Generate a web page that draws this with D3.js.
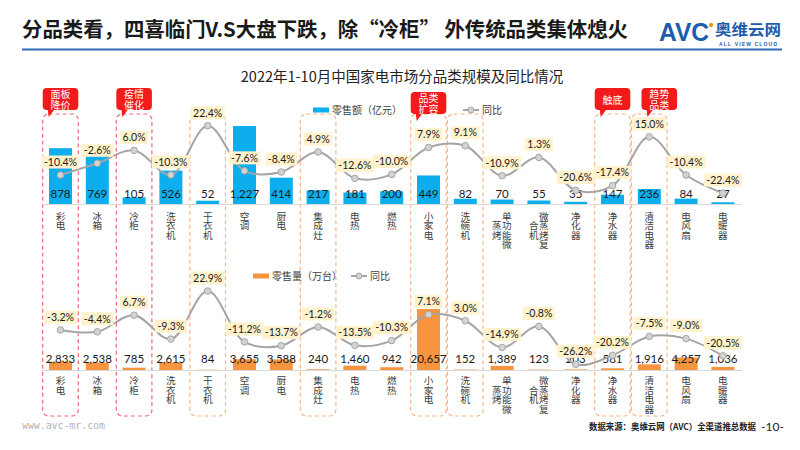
<!DOCTYPE html>
<html><head><meta charset="utf-8">
<script src="https://cdn.jsdelivr.net/npm/d3@7/dist/d3.min.js"></script>
<style>
html,body{margin:0;padding:0;background:#fff;}
svg{display:block;}
.vt{writing-mode:vertical-rl;}
.co{font-family:'Noto Sans CJK SC',sans-serif;font-size:10px;line-height:11px;color:#fff;text-align:center;word-break:break-all;margin:0 auto;}
</style></head>
<body>
<svg id="c" width="800" height="450"></svg>
<script>
// ---------- DATA ----------
const categories = ["彩电","冰箱","冷柜","洗衣机","干衣机","空调","厨电","集成灶","电热","燃热","小家电","洗碗机","单功能微蒸烤","微蒸烤复合机","净化器","净水器","清洁电器","电风扇","电暖器"];
const retailValue = [878,769,105,526,52,1227,414,217,181,200,449,82,70,55,35,147,236,84,27];           // 零售额（亿元）
const retailValueYoY = [-10.4,-2.6,6.0,-10.3,22.4,-7.6,-8.4,4.9,-12.6,-10.0,7.9,9.1,-10.9,1.3,-20.6,-17.4,15.0,-10.4,-22.4];
const retailVolume = [2833,2538,785,2615,84,3655,3588,240,1460,942,20657,152,1389,123,203,581,1916,4257,1036]; // 零售量（万台）
const retailVolumeYoY = [-3.2,-4.4,6.7,-9.3,22.9,-11.2,-13.7,-1.2,-13.5,-10.3,7.1,3.0,-14.9,-0.8,-26.2,-20.2,-7.5,-9.0,-20.5];
const redBoxes = ["彩电","冷柜"];
const orangeBoxes = ["干衣机","集成灶","小家电","洗碗机","净水器","清洁电器"];
const callouts = [
  {cat:"彩电", text:"面板降价"},
  {cat:"冷柜", text:"疫情催化"},
  {cat:"小家电", text:"品类扩容"},
  {cat:"净水器", text:"触底"},
  {cat:"清洁电器", text:"趋势品类"}
];
const titleText = "分品类看，四喜临门V.S大盘下跌，除“冷柜” 外传统品类集体熄火";
const chartTitle = "2022年1-10月中国家电市场分品类规模及同比情况";

// ---------- LAYOUT ----------
const svg = d3.select("#c");
const NUM_FONT = "Lato, 'Noto Sans CJK SC', sans-serif";
const CJK_FONT = "'Noto Sans CJK SC', sans-serif";
const calloutShift = {"小家电":{dy:4},"清洁电器":{dx:10}};

const x = d3.scaleBand().domain(categories).range([42.1, 741.3]).paddingInner(0.375).paddingOuter(0.1875);
const cx = c => x(c) + x.bandwidth()/2;

// header
svg.append("text").attr("x",22).attr("y",37).attr("font-family",CJK_FONT).attr("font-weight","bold")
  .attr("font-size",20.5).attr("fill","#1a1a1a").attr("textLength",606).attr("lengthAdjust","spacingAndGlyphs").text(titleText);
svg.append("line").attr("x1",22).attr("x2",782).attr("y1",49.5).attr("y2",49.5).attr("stroke","#2E6BB8").attr("stroke-width",2);
// logo
svg.append("text").attr("x",659).attr("y",41).attr("font-family","'Liberation Sans', sans-serif").attr("font-weight","bold")
  .attr("font-size",26).attr("fill","#1E5CAC").attr("textLength",50).attr("lengthAdjust","spacingAndGlyphs").text("AVC");
svg.append("circle").attr("cx",711).attr("cy",25).attr("r",2.2).attr("fill","#F39A1E");
svg.append("text").attr("x",715).attr("y",35).attr("font-family",CJK_FONT).attr("font-weight","bold")
  .attr("font-size",15).attr("fill","#1E5CAC").attr("textLength",66).attr("lengthAdjust","spacingAndGlyphs").text("奥维云网");
svg.append("text").attr("x",719).attr("y",45.5).attr("font-family","'Liberation Sans', sans-serif").attr("font-weight","bold")
  .attr("font-size",5).attr("fill","#1E5CAC").attr("textLength",58).text("ALL VIEW CLOUD");

// chart title
svg.append("text").attr("x",402).attr("y",82).attr("text-anchor","middle").attr("font-family",CJK_FONT)
  .attr("font-size",14.5).attr("fill","#222").text(chartTitle);

// highlight dashed boxes
function hbox(c, color){
  svg.append("rect").attr("x",cx(c)-17.8).attr("y",114).attr("width",35.6).attr("height",302).attr("rx",6)
    .attr("fill","none").attr("stroke",color).attr("stroke-width",1.2).attr("stroke-dasharray","4,3");
}
redBoxes.forEach(c=>hbox(c,"#EE6B73"));
orangeBoxes.forEach(c=>hbox(c,"#F7B58A"));

// callouts
callouts.forEach(o=>{
  const s = calloutShift[o.cat]||{};
  const l = cx(o.cat)-17.8+(s.dx||0), t = 88+(s.dy||0), w = 35.6, h = 22;
  const g = svg.append("g");
  g.append("rect").attr("x",l).attr("y",t).attr("width",w).attr("height",h).attr("rx",4).attr("fill","#F21A1A");
  g.append("path").attr("d",`M${l+5},${t+h-1}L${l+12},${t+h-1}L${l+6},${t+h+7}Z`).attr("fill","#F21A1A");
  const lines = Math.ceil(Array.from(o.text).length/2);
  const fo = g.append("foreignObject").attr("x",l).attr("y",t+(h-lines*11)/2).attr("width",w).attr("height",lines*11+2);
  fo.append("xhtml:div").attr("class","co").style("width","21px").text(o.text);
});

// ---------- panel drawing ----------
function panel(cfg){
  const y = d3.scaleLinear().domain([0,cfg.max]).range([cfg.base, cfg.top]);
  const yp = d3.scaleLinear().domain([-30,30]).range([cfg.pBot, cfg.pTop]);
  // baseline
  svg.append("line").attr("x1",42).attr("x2",742).attr("y1",cfg.base+0.5).attr("y2",cfg.base+0.5).attr("stroke","#D9D9D9").attr("stroke-width",1);
  // bars
  svg.append("g").selectAll("rect").data(cfg.values).join("rect")
    .attr("x",(d,i)=>x(categories[i])).attr("width",x.bandwidth())
    .attr("y",d=>y(d)).attr("height",d=>cfg.base-y(d)).attr("fill",cfg.color);
  // bar labels
  svg.append("g").selectAll("text").data(cfg.values).join("text")
    .attr("x",(d,i)=>cx(categories[i])).attr("y",cfg.labelY).attr("dy","0.36em").attr("text-anchor","middle")
    .attr("font-family",NUM_FONT).attr("font-size",11.5).attr("fill","#1a1a1a").text(d=>d3.format(",")(d));
  // category labels (vertical writing, columns of up to 4 characters)
  const cg = svg.append("g").attr("font-family",CJK_FONT).attr("font-size",9.6).attr("fill","#404040");
  const step = 9.6;
  categories.forEach(c=>{
    const chars = Array.from(c);
    if(chars.length<=4){
      cg.append("text").attr("class","vt").attr("x",cx(c)).attr("y",cfg.catY-step/2).text(c);
    } else {
      cg.append("text").attr("class","vt").attr("x",cx(c)+4.8).attr("y",cfg.catY-step/2).text(chars.slice(0,4).join(""));
      cg.append("text").attr("class","vt").attr("x",cx(c)-5.2).attr("y",cfg.catY+step/2).text(chars.slice(4).join(""));
    }
  });
  // yoy line
  const line = d3.line().x((d,i)=>cx(categories[i])).y(d=>yp(d)).curve(d3.curveCatmullRom.alpha(0.5));
  svg.append("path").datum(cfg.yoy).attr("d",line).attr("fill","none").attr("stroke","#A5A5A5").attr("stroke-width",2);
  svg.append("g").selectAll("circle").data(cfg.yoy).join("circle")
    .attr("cx",(d,i)=>cx(categories[i])).attr("cy",d=>yp(d)).attr("r",3.3)
    .attr("fill","#D3D3D3").attr("stroke","#A5A5A5").attr("stroke-width",1);
  // yoy labels
  const lg = svg.append("g");
  cfg.yoy.forEach((d,i)=>{
    const px = cx(categories[i]), py = yp(d)-13;
    const r = lg.append("rect").attr("fill","#FFF2CC");
    const t = lg.append("text").attr("x",px).attr("y",py).attr("dy","0.36em").attr("text-anchor","middle")
      .attr("font-family",NUM_FONT).attr("font-size",10.5).attr("fill","#1a1a1a").text(d.toFixed(1)+"%");
    const w = t.node().getComputedTextLength()+5;
    r.attr("x",px-w/2).attr("y",py-6.5).attr("width",w).attr("height",13);
  });
  // legend
  const L = cfg.legend;
  svg.append("rect").attr("x",L.x).attr("y",L.y-2.5).attr("width",16).attr("height",5).attr("fill",cfg.color);
  svg.append("text").attr("x",L.x+19).attr("y",L.y).attr("dy","0.36em").attr("font-family",CJK_FONT).attr("font-size",10).attr("fill","#404040").text(cfg.legendText);
  svg.append("line").attr("x1",L.lx).attr("x2",L.lx+16).attr("y1",L.y).attr("y2",L.y).attr("stroke","#A5A5A5").attr("stroke-width",2);
  svg.append("circle").attr("cx",L.lx+8).attr("cy",L.y).attr("r",3).attr("fill","#D3D3D3").attr("stroke","#A5A5A5");
  svg.append("text").attr("x",L.lx+19).attr("y",L.y).attr("dy","0.36em").attr("font-family",CJK_FONT).attr("font-size",10).attr("fill","#404040").text("同比");
}

panel({values:retailValue, yoy:retailValueYoY, max:1400, base:204, top:115, pBot:204.5, pTop:114.3,
  color:"#0CAEEE", labelY:194, catY:216, legend:{x:313,y:110,lx:463}, legendText:"零售额（亿元）"});
panel({values:retailVolume, yoy:retailVolumeYoY, max:25000, base:370, top:296.2, pBot:370, pTop:280.4,
  color:"#F7943F", labelY:359, catY:380.5, legend:{x:253,y:276,lx:351}, legendText:"零售量（万台）"});

// footer
svg.append("text").attr("x",22).attr("y",429).attr("font-family","'DejaVu Sans Mono', monospace").attr("font-size",10)
  .attr("fill","#B5B5B5").attr("textLength",83).text("www.avc-mr.com");
svg.append("text").attr("x",589).attr("y",430).attr("font-family",CJK_FONT).attr("font-weight","bold").attr("font-size",8.6)
  .attr("fill","#222").attr("textLength",167).attr("lengthAdjust","spacingAndGlyphs").text("数据来源：奥维云网（AVC）全渠道推总数据");
svg.append("text").attr("x",761).attr("y",431).attr("font-family",NUM_FONT).attr("font-size",12)
  .attr("fill","#222").text("-10-");
</script>
</body></html>
